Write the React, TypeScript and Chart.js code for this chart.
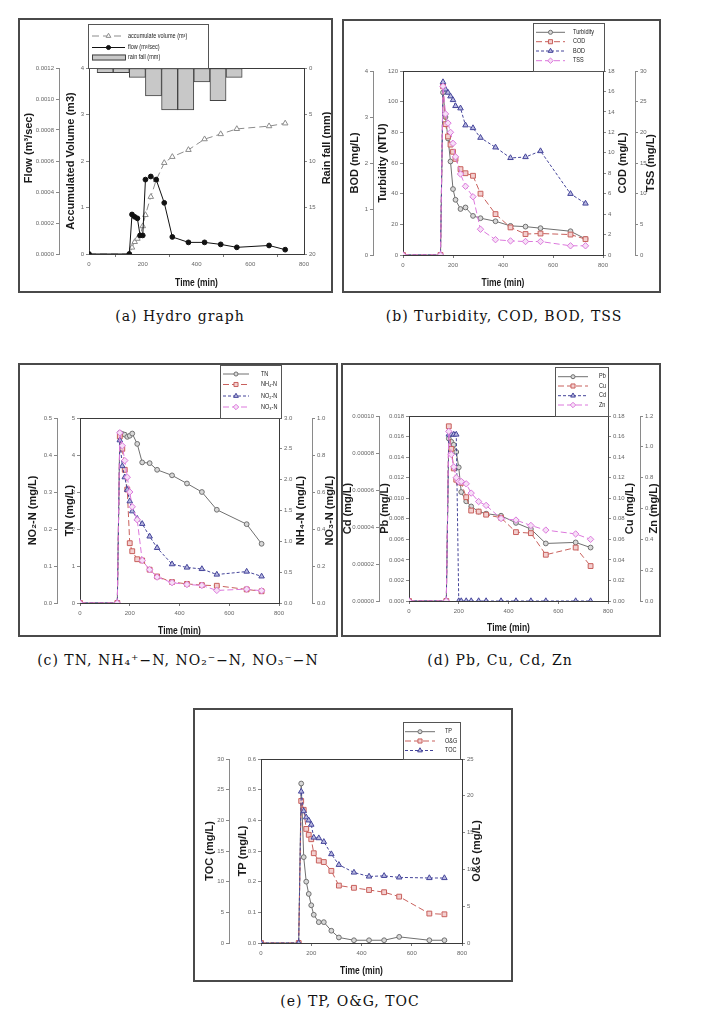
import React, { useEffect, useRef } from "react";
import { Chart, registerables } from "chart.js";

Chart.register(...registerables);

const SANS = "'Liberation Sans', Arial, Helvetica, sans-serif";
const SERIF = "'DejaVu Serif', 'Liberation Serif', serif";

// shared sampling times (min)
const TIME = [0, 150, 160, 170, 180, 190, 200, 210, 230, 250, 280, 310, 370, 430, 490, 550, 670, 730];
const TIME_TICKS = [0, 200, 400, 600, 800];

// (a) hydro graph
const FLOW = [0, 0, 0.000255, 0.00024, 0.00023, 0.00012, 0.00012, 0.00048, 0.0005, 0.00048, 0.00033, 0.00011, 0.000075, 0.000075, 0.000062, 0.000043, 0.000055, 0.000028];
const ACCUM_VOLUME = [0, 0, 0.14, 0.26, 0.33, 0.4, 0.6, 0.84, 1.23, 1.59, 1.96, 2.09, 2.24, 2.47, 2.58, 2.69, 2.75, 2.81];
const RAIN_TIME = [60, 120, 180, 240, 300, 360, 420, 480, 540];
const RAIN_FALL = [0.5, 0.5, 1.0, 3.0, 4.5, 4.5, 1.5, 3.5, 1.0];
const FLOW_TICKS = [0, 0.0002, 0.0004, 0.0006, 0.0008, 0.001, 0.0012];
const VOLUME_TICKS = [0, 1, 2, 3, 4];
const RAIN_TICKS = [0, 5, 10, 15, 20];

// (b) Turbidity, COD, BOD, TSS
const TURBIDITY = [0, 0, 106, 90, 76, 61, 43, 36, 30, 31, 25.5, 24, 22, 19, 18.5, 17.5, 15.5, 10.5];
const COD = [0, 0, 16.5, 12.8, 11.6, 10.8, 10.1, 9.4, 8.4, 8.0, 7.75, 6.0, 4.0, 2.7, 2.05, 2.1, 2.0, 1.55];
const BOD = [0, 0, 3.76, 3.6, 3.53, 3.45, 3.37, 3.24, 3.19, 2.82, 2.76, 2.55, 2.34, 2.11, 2.13, 2.26, 1.33, 1.12];
const TSS = [0, 0, 27.5, 23, 21.5, 20, 18.2, 16, 13.2, 11.2, 9.5, 4.2, 2.5, 2.3, 2.2, 2.2, 1.5, 1.5];
const BOD_TICKS = [0, 1, 2, 3, 4];
const TURBIDITY_TICKS = [0, 20, 40, 60, 80, 100, 120];
const COD_TICKS = [0, 2, 4, 6, 8, 10, 12, 14, 16, 18];
const TSS_TICKS = [0, 5, 10, 15, 20, 25, 30];

// (c) TN, NH4-N, NO2-N, NO3-N
const TN = [0, 0, 4.6, 4.57, 4.55, 4.49, 4.52, 4.58, 4.3, 3.8, 3.78, 3.6, 3.45, 3.23, 3.0, 2.52, 2.13, 1.6];
const NH4_N = [0, 0, 2.7, 2.5, 2.16, 1.84, 0.97, 0.84, 0.71, 0.69, 0.54, 0.43, 0.34, 0.31, 0.29, 0.28, 0.22, 0.19];
const NO2_N = [0, 0, 0.44, 0.37, 0.34, 0.306, 0.275, 0.248, 0.228, 0.214, 0.18, 0.149, 0.105, 0.096, 0.092, 0.077, 0.085, 0.072];
const NO3_N = [0, 0, 0.92, 0.85, 0.77, 0.68, 0.6, 0.52, 0.45, 0.23, 0.18, 0.14, 0.11, 0.1, 0.095, 0.068, 0.075, 0.066];
const NO2_TICKS = [0, 0.1, 0.2, 0.3, 0.4, 0.5];
const TN_TICKS = [0, 1, 2, 3, 4, 5];
const NH4_TICKS = [0, 0.5, 1, 1.5, 2, 2.5, 3];
const NO3_TICKS = [0, 0.2, 0.4, 0.6, 0.8, 1.0];

// (d) Pb, Cu, Cd, Zn
const PB = [0, 0, 0.0158, 0.0155, 0.0152, 0.0145, 0.013, 0.0106, 0.0097, 0.0092, 0.0087, 0.0085, 0.0083, 0.0076, 0.007, 0.0056, 0.0057, 0.0052];
const CU = [0, 0, 0.17, 0.148, 0.129, 0.118, 0.116, 0.115, 0.101, 0.088, 0.087, 0.084, 0.081, 0.067, 0.066, 0.045, 0.052, 0.034];
const CD = [0, 0, 0.00009, 0.00009, 0.00009, 0.00009, 0, 0, 0, 0, 0, 0, 0, 0, 0, 0, 0, 0];
const ZN = [0, 0, 1.1, 0.95, 0.87, 0.8, 0.775, 0.775, 0.76, 0.7, 0.645, 0.62, 0.535, 0.525, 0.49, 0.46, 0.435, 0.4];
const CD_TICKS = [0, 0.00002, 0.00004, 0.00006, 0.00008, 0.0001];
const PB_TICKS = [0, 0.002, 0.004, 0.006, 0.008, 0.01, 0.012, 0.014, 0.016, 0.018];
const CU_TICKS = [0, 0.02, 0.04, 0.06, 0.08, 0.1, 0.12, 0.14, 0.16, 0.18];
const ZN_TICKS = [0, 0.2, 0.4, 0.6, 0.8, 1.0, 1.2];

// (e) TP, O&G, TOC
const TP = [0, 0, 0.52, 0.28, 0.2, 0.16, 0.123, 0.092, 0.068, 0.068, 0.04, 0.018, 0.009, 0.009, 0.009, 0.02, 0.009, 0.009];
const OG = [0, 0, 19.3, 18.1, 15.5, 14.7, 14.1, 12.2, 11.2, 11.0, 9.8, 7.8, 7.5, 7.2, 6.9, 6.3, 4.0, 3.9];
const TOC = [0, 0, 24.7, 21.5, 20.5, 20, 19.3, 17.2, 17.1, 16.5, 14.5, 12.75, 11.5, 10.85, 10.95, 10.7, 10.6, 10.6];
const TOC_TICKS = [0, 5, 10, 15, 20, 25, 30];
const TP_TICKS = [0, 0.1, 0.2, 0.3, 0.4, 0.5, 0.6];
const OG_TICKS = [0, 5, 10, 15, 20, 25];

type Shape = "circle" | "rect" | "triangle" | "rectRot";
type StyleKey = "gray" | "red" | "blue" | "pink" | "black" | "vol";
interface Style { color: string; dash: number[]; shape: Shape; radius: number; fill: string; }

const STYLES: Record<StyleKey, Style> = {
  gray: { color: "#707070", dash: [], shape: "circle", radius: 2.4, fill: "#d8d8d8" },
  red: { color: "#c8605c", dash: [6, 3], shape: "rect", radius: 3.4, fill: "#f3d0d0" },
  blue: { color: "#45459a", dash: [3, 2], shape: "triangle", radius: 3.2, fill: "#b8b8e0" },
  pink: { color: "#dc78dc", dash: [6, 3], shape: "rectRot", radius: 3.2, fill: "#f6e0f6" },
  black: { color: "#111111", dash: [], shape: "circle", radius: 2.4, fill: "#111111" },
  vol: { color: "#8c8c8c", dash: [7, 4], shape: "triangle", radius: 3.2, fill: "#ffffff" },
};

interface AxisSpec {
  id: string; side: "left" | "right"; outer: boolean; ticks: number[]; dec: number;
  width: number; title: string; titleX: number; titleY?: number; reverse?: boolean;
}
interface SeriesSpec { label: string; values: number[]; axis: string; style: StyleKey; }
interface LegendSpec {
  x: number; y: number; w: number; h: number; rows: number[]; s1: number; s2: number; tx: number;
  items: { label: string; style: StyleKey | "bar" }[];
}
interface PanelSpec {
  key: string; x: number; y: number; w: number; h: number;
  pad: { left: number; right: number; top: number; bottom: number };
  xHeight: number; timeY: number; axes: AxisSpec[]; series: SeriesSpec[];
  bars?: { label: string; x: number[]; values: number[]; axis: string };
  legend: LegendSpec; caption: string; captionX: number; captionY: number;
}

const PANELS: PanelSpec[] = [
  {
    key: "a", x: 18, y: 18, w: 315, h: 275,
    pad: { left: 0, right: 0, top: 50, bottom: 0 }, xHeight: 39, timeY: 265,
    axes: [
      { id: "flow", side: "left", outer: true, ticks: FLOW_TICKS, dec: 4, width: 41, title: "Flow (m³/sec)", titleX: 10.5, titleY: 130 },
      { id: "vol", side: "left", outer: false, ticks: VOLUME_TICKS, dec: 0, width: 30, title: "Accumulated Volume (m3)", titleX: 53 },
      { id: "rain", side: "right", outer: false, ticks: RAIN_TICKS, dec: 0, width: 29, title: "Rain fall (mm)", titleX: 309, titleY: 130, reverse: true },
    ],
    series: [
      { label: "accumulate volume (m³)", values: ACCUM_VOLUME, axis: "vol", style: "vol" },
      { label: "flow (m³/sec)", values: FLOW, axis: "flow", style: "black" },
    ],
    bars: { label: "rain fall (mm)", x: RAIN_TIME, values: RAIN_FALL, axis: "rain" },
    legend: {
      x: 70, y: 6, w: 120, h: 44, rows: [18, 29.5, 39.5], s1: 74, s2: 107, tx: 110,
      items: [
        { label: "accumulate volume (m³)", style: "vol" },
        { label: "flow (m³/sec)", style: "black" },
        { label: "rain fall (mm)", style: "bar" },
      ],
    },
    caption: "(a) Hydro graph", captionX: 180, captionY: 316,
  },
  {
    key: "b", x: 342, y: 19, w: 319, h: 274,
    pad: { left: 0, right: 0, top: 52, bottom: 0 }, xHeight: 38, timeY: 264,
    axes: [
      { id: "bod", side: "left", outer: true, ticks: BOD_TICKS, dec: 0, width: 31, title: "BOD (mg/L)", titleX: 13 },
      { id: "turb", side: "left", outer: false, ticks: TURBIDITY_TICKS, dec: 0, width: 30, title: "Turbidity (NTU)", titleX: 41 },
      { id: "cod", side: "right", outer: false, ticks: COD_TICKS, dec: 0, width: 32, title: "COD (mg/L)", titleX: 281 },
      { id: "tss", side: "right", outer: true, ticks: TSS_TICKS, dec: 0, width: 26, title: "TSS (mg/L)", titleX: 309 },
    ],
    series: [
      { label: "Turbidity", values: TURBIDITY, axis: "turb", style: "gray" },
      { label: "COD", values: COD, axis: "cod", style: "red" },
      { label: "BOD", values: BOD, axis: "bod", style: "blue" },
      { label: "TSS", values: TSS, axis: "tss", style: "pink" },
    ],
    legend: {
      x: 190.5, y: 4, w: 71, h: 48, rows: [13.3, 22.7, 32, 41.7], s1: 194, s2: 223, tx: 231,
      items: [
        { label: "Turbidity", style: "gray" },
        { label: "COD", style: "red" },
        { label: "BOD", style: "blue" },
        { label: "TSS", style: "pink" },
      ],
    },
    caption: "(b) Turbidity, COD, BOD, TSS", captionX: 504, captionY: 316,
  },
  {
    key: "c", x: 18, y: 363, w: 320, h: 274,
    pad: { left: 4, right: 0, top: 55, bottom: 0 }, xHeight: 34, timeY: 268,
    axes: [
      { id: "no2", side: "left", outer: true, ticks: NO2_TICKS, dec: 1, width: 35, title: "NO₂-N (mg/L)", titleX: 15 },
      { id: "tn", side: "left", outer: false, ticks: TN_TICKS, dec: 0, width: 23, title: "TN (mg/L)", titleX: 52 },
      { id: "nh4", side: "right", outer: false, ticks: NH4_TICKS, dec: 1, width: 33, title: "NH₄-N (mg/L)", titleX: 283 },
      { id: "no3", side: "right", outer: true, ticks: NO3_TICKS, dec: 1, width: 26, title: "NO₃-N (mg/L)", titleX: 312 },
    ],
    series: [
      { label: "TN", values: TN, axis: "tn", style: "gray" },
      { label: "NH₄-N", values: NH4_N, axis: "nh4", style: "red" },
      { label: "NO₂-N", values: NO2_N, axis: "no2", style: "blue" },
      { label: "NO₃-N", values: NO3_N, axis: "no3", style: "pink" },
    ],
    legend: {
      x: 201.5, y: 2, w: 61, h: 53, rows: [11, 21.5, 33, 44], s1: 205, s2: 231, tx: 243,
      items: [
        { label: "TN", style: "gray" },
        { label: "NH₄-N", style: "red" },
        { label: "NO₂-N", style: "blue" },
        { label: "NO₃-N", style: "pink" },
      ],
    },
    caption: "(c) TN, NH₄⁺−N, NO₂⁻−N, NO₃⁻−N", captionX: 178, captionY: 660,
  },
  {
    key: "d", x: 341, y: 363, w: 320, h: 274,
    pad: { left: 0, right: 0, top: 53, bottom: 0 }, xHeight: 36, timeY: 265,
    axes: [
      { id: "cd", side: "left", outer: true, ticks: CD_TICKS, dec: 5, width: 38, title: "Cd (mg/L)", titleX: 7 },
      { id: "pb", side: "left", outer: false, ticks: PB_TICKS, dec: 3, width: 30, title: "Pb (mg/L)", titleX: 44 },
      { id: "cu", side: "right", outer: false, ticks: CU_TICKS, dec: 2, width: 32, title: "Cu (mg/L)", titleX: 289 },
      { id: "zn", side: "right", outer: true, ticks: ZN_TICKS, dec: 1, width: 21, title: "Zn (mg/L)", titleX: 313 },
    ],
    series: [
      { label: "Pb", values: PB, axis: "pb", style: "gray" },
      { label: "Cu", values: CU, axis: "cu", style: "red" },
      { label: "Cd", values: CD, axis: "cd", style: "blue" },
      { label: "Zn", values: ZN, axis: "zn", style: "pink" },
    ],
    legend: {
      x: 214, y: 4, w: 53, h: 49, rows: [13.7, 23, 32.7, 42], s1: 217, s2: 247, tx: 258,
      items: [
        { label: "Pb", style: "gray" },
        { label: "Cu", style: "red" },
        { label: "Cd", style: "blue" },
        { label: "Zn", style: "pink" },
      ],
    },
    caption: "(d) Pb, Cu, Cd, Zn", captionX: 500, captionY: 660,
  },
  {
    key: "e", x: 193, y: 708, w: 320, h: 274,
    pad: { left: 6, right: 25, top: 51, bottom: 0 }, xHeight: 39, timeY: 263,
    axes: [
      { id: "toc", side: "left", outer: true, ticks: TOC_TICKS, dec: 0, width: 30, title: "TOC (mg/L)", titleX: 17 },
      { id: "tp", side: "left", outer: false, ticks: TP_TICKS, dec: 1, width: 32, title: "TP (mg/L)", titleX: 50 },
      { id: "og", side: "right", outer: false, ticks: OG_TICKS, dec: 0, width: 26, title: "O&G (mg/L)", titleX: 284 },
    ],
    series: [
      { label: "TP", values: TP, axis: "tp", style: "gray" },
      { label: "O&G", values: OG, axis: "og", style: "red" },
      { label: "TOC", values: TOC, axis: "toc", style: "blue" },
    ],
    legend: {
      x: 209.5, y: 14, w: 57, h: 37, rows: [23.7, 33, 42.5], s1: 212, s2: 242, tx: 252,
      items: [
        { label: "TP", style: "gray" },
        { label: "O&G", style: "red" },
        { label: "TOC", style: "blue" },
      ],
    },
    caption: "(e) TP, O&G, TOC", captionX: 350, captionY: 1001,
  },
];

function drawMarker(ctx: CanvasRenderingContext2D, shape: Shape, x: number, y: number, r: number) {
  ctx.beginPath();
  if (shape === "circle") {
    ctx.arc(x, y, r, 0, Math.PI * 2);
  } else if (shape === "rect") {
    const s = r * Math.SQRT1_2;
    ctx.rect(x - s, y - s, 2 * s, 2 * s);
  } else if (shape === "triangle") {
    ctx.moveTo(x, y - r);
    ctx.lineTo(x + r * 0.866, y + r * 0.5);
    ctx.lineTo(x - r * 0.866, y + r * 0.5);
    ctx.closePath();
  } else {
    ctx.moveTo(x, y - r);
    ctx.lineTo(x + r, y);
    ctx.lineTo(x, y + r);
    ctx.lineTo(x - r, y);
    ctx.closePath();
  }
  ctx.fill();
  ctx.stroke();
}

function makeDecorPlugin(p: PanelSpec) {
  return {
    id: "decor_" + p.key,
    beforeDatasetsDraw(chart: any) {
      const { ctx, chartArea: a } = chart;
      ctx.save();
      ctx.strokeStyle = "#3a3a3a";
      ctx.lineWidth = 1;
      ctx.strokeRect(Math.round(a.left) + 0.5, Math.round(a.top) + 0.5, Math.round(a.right - a.left), Math.round(a.bottom - a.top));
      ctx.restore();
    },
    afterDraw(chart: any) {
      const { ctx, chartArea: a } = chart;
      ctx.save();
      // axis titles
      ctx.fillStyle = "#1a1a1a";
      ctx.textAlign = "center";
      ctx.textBaseline = "middle";
      ctx.font = `bold 11px ${SANS}`;
      for (const ax of p.axes) {
        ctx.save();
        ctx.translate(ax.titleX, ax.titleY ?? (a.top + a.bottom) / 2);
        ctx.rotate(-Math.PI / 2);
        ctx.fillText(ax.title, 0, 0);
        ctx.restore();
      }
      ctx.save();
      ctx.translate((a.left + a.right) / 2, p.timeY);
      ctx.scale(0.85, 1);
      ctx.font = `bold 10px ${SANS}`;
      ctx.fillText("Time (min)", 0, 0);
      ctx.restore();

      // legend
      const L = p.legend;
      ctx.fillStyle = "#ffffff";
      ctx.fillRect(L.x, L.y, L.w, L.h);
      ctx.strokeStyle = "#555555";
      ctx.lineWidth = 1;
      ctx.strokeRect(Math.round(L.x) + 0.5, Math.round(L.y) + 0.5, Math.round(L.w), Math.round(L.h));
      L.items.forEach((it, i) => {
        const y = L.rows[i];
        if (it.style === "bar") {
          ctx.fillStyle = "#c8c8c8";
          ctx.strokeStyle = "#444";
          ctx.setLineDash([]);
          ctx.fillRect(L.s1, y - 3, L.s2 - L.s1, 6);
          ctx.strokeRect(L.s1 + 0.5, y - 2.5, L.s2 - L.s1, 5);
        } else {
          const st = STYLES[it.style];
          ctx.strokeStyle = st.color;
          ctx.lineWidth = 1;
          ctx.setLineDash(st.dash);
          ctx.beginPath();
          ctx.moveTo(L.s1, y);
          ctx.lineTo(L.s2, y);
          ctx.stroke();
          ctx.setLineDash([]);
          ctx.fillStyle = st.fill;
          drawMarker(ctx, st.shape, (L.s1 + L.s2) / 2, y, st.radius * 0.85);
        }
        ctx.save();
        ctx.translate(L.tx, y);
        ctx.scale(0.85, 1);
        ctx.fillStyle = "#222";
        ctx.textAlign = "left";
        ctx.font = `6.5px ${SANS}`;
        ctx.fillText(it.label, 0, 0);
        ctx.restore();
      });
      ctx.restore();
    },
  };
}

function buildConfig(p: PanelSpec): any {
  const scales: any = {
    x: {
      type: "linear",
      min: 0,
      max: 800,
      offset: false,
      afterBuildTicks: (s: any) => { s.ticks = TIME_TICKS.map((v) => ({ value: v })); },
      afterFit: (s: any) => { s.height = p.xHeight; },
      ticks: { font: { family: SANS, size: 6 }, color: "#666", padding: 4, maxRotation: 0, autoSkip: false },
      grid: { drawOnChartArea: false, drawTicks: true, tickLength: 3, color: "#555", tickColor: "#777" },
      border: { display: true, color: "#3a3a3a" },
    },
  };
  for (const ax of p.axes) {
    const axisColor = ax.outer ? "#8a8a8a" : "#3a3a3a";
    scales[ax.id] = {
      type: "linear",
      position: ax.side,
      weight: ax.outer ? 2 : 1,
      min: ax.ticks[0],
      max: ax.ticks[ax.ticks.length - 1],
      reverse: !!ax.reverse,
      afterBuildTicks: (s: any) => { s.ticks = ax.ticks.map((v) => ({ value: v })); },
      afterFit: (s: any) => { s.width = ax.width; },
      ticks: {
        font: { family: SANS, size: 6 },
        color: "#666",
        padding: 2,
        autoSkip: false,
        callback: (v: any) => Number(v).toFixed(ax.dec),
      },
      grid: { drawOnChartArea: false, drawTicks: true, tickLength: 3, color: axisColor, tickColor: "#888" },
      border: { display: true, color: axisColor },
    };
  }
  const datasets: any[] = p.series.map((s, i) => {
    const st = STYLES[s.style];
    return {
      type: "line",
      label: s.label,
      data: TIME.map((t, k) => ({ x: t, y: s.values[k] })),
      yAxisID: s.axis,
      xAxisID: "x",
      borderColor: st.color,
      borderWidth: 1,
      borderDash: st.dash,
      pointStyle: st.shape,
      pointRadius: st.radius,
      pointBackgroundColor: st.fill,
      pointBorderColor: st.color,
      pointBorderWidth: 1,
      tension: 0,
      fill: false,
      order: p.series.length - i,
    };
  });
  if (p.bars) {
    const b = p.bars;
    datasets.push({
      type: "bar",
      label: b.label,
      data: b.x.map((t, k) => ({ x: t, y: b.values[k] })),
      yAxisID: b.axis,
      xAxisID: "x",
      backgroundColor: "#c8c8c8",
      borderColor: "#444",
      borderWidth: 1,
      borderSkipped: false,
      barPercentage: 1,
      categoryPercentage: 1,
      order: 10,
    });
  }
  return {
    type: "line",
    data: { datasets },
    options: {
      responsive: false,
      animation: false,
      devicePixelRatio: 1,
      events: [],
      layout: { padding: p.pad },
      scales,
      plugins: { legend: { display: false }, tooltip: { enabled: false }, title: { display: false } },
    },
    plugins: [makeDecorPlugin(p)],
  };
}

function Panel({ p }: { p: PanelSpec }) {
  const ref = useRef<HTMLCanvasElement | null>(null);
  useEffect(() => {
    if (!ref.current) return;
    const chart = new Chart(ref.current, buildConfig(p));
    return () => chart.destroy();
  }, [p]);
  return (
    <>
      <canvas
        ref={ref}
        width={p.w}
        height={p.h}
        style={{ position: "absolute", left: p.x, top: p.y, width: p.w, height: p.h }}
      />
      <div
        style={{
          position: "absolute", left: p.x, top: p.y, width: p.w, height: p.h,
          border: "2px solid #4a4a4a", boxSizing: "border-box", pointerEvents: "none",
        }}
      />
      <div
        style={{
          position: "absolute", left: p.captionX - 220, top: p.captionY - 10, width: 440, height: 20,
          lineHeight: "20px", textAlign: "center", fontFamily: SERIF, fontSize: 14,
          letterSpacing: "1px", color: "#111", whiteSpace: "nowrap",
        }}
      >
        {p.caption}
      </div>
    </>
  );
}

export default function App() {
  return (
    <div style={{ position: "absolute", left: 0, top: 0, width: 709, height: 1019, background: "#fff" }}>
      {PANELS.map((p) => (
        <Panel key={p.key} p={p} />
      ))}
    </div>
  );
}
